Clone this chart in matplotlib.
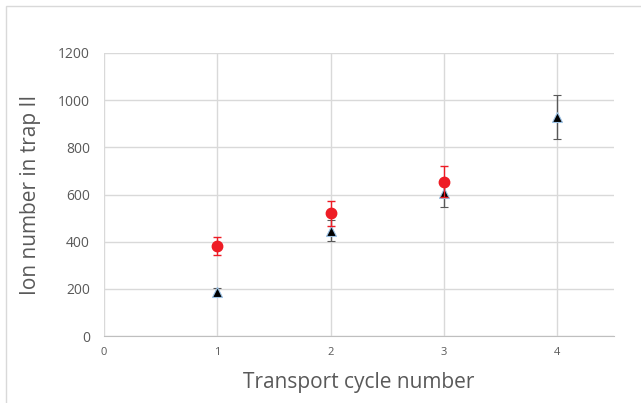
import matplotlib.pyplot as plt
from matplotlib.patches import Rectangle

# data
cycles_red = [1, 2, 3]
ions_red = [382, 521, 654]
err_red = [38, 53, 65]

cycles_black = [1, 2, 3, 4]
ions_black = [188, 447, 605, 927]
err_black = [15, 46, 60, 93]

xticks = [0, 1, 2, 3, 4]
yticks = [0, 200, 400, 600, 800, 1000, 1200]

plt.rcParams['font.family'] = ['Open Sans', 'DejaVu Sans']

fig = plt.figure(figsize=(6.41, 4.03), dpi=100)
fig.patches.append(Rectangle((6 / 641, -0.1), 1.0, 1 - 6 / 403 + 0.1,
                             transform=fig.transFigure, fill=False,
                             edgecolor='#d9d9d9', lw=1))
ax = fig.add_axes([104 / 641, 1 - 336 / 403, 510 / 641, 283 / 403])

ax.errorbar(cycles_black, ions_black, yerr=err_black, fmt='^', color='black',
            mec='#9dc3e6', mew=0.8, ms=6.5, ecolor='#595959', elinewidth=1,
            capsize=3, capthick=1, zorder=3)
ax.errorbar(cycles_red, ions_red, yerr=err_red, fmt='o', color='#ee1c25',
            mec='#ee1c25', ms=7.5, ecolor='#ee1c25', elinewidth=1,
            capsize=3, capthick=1, zorder=4)

ax.set_xlim(0, 4.5)
ax.set_ylim(0, 1200)
ax.set_xticks(xticks)
ax.set_yticks(yticks)
ax.grid(True, color='#d9d9d9', lw=1)
ax.set_axisbelow(True)
for s in ['top', 'right', 'left']:
    ax.spines[s].set_visible(False)
ax.spines['bottom'].set_color('#bfbfbf')
ax.tick_params(length=0, colors='#595959')
ax.tick_params(axis='x', labelsize=8, pad=8)
ax.tick_params(axis='y', labelsize=10, pad=10)
ax.set_xlabel('Transport cycle number', fontsize=15, color='#595959', labelpad=10)
ax.set_ylabel('Ion number in trap II', fontsize=15, color='#595959', labelpad=12)

fig.savefig('out.png', dpi=100)
